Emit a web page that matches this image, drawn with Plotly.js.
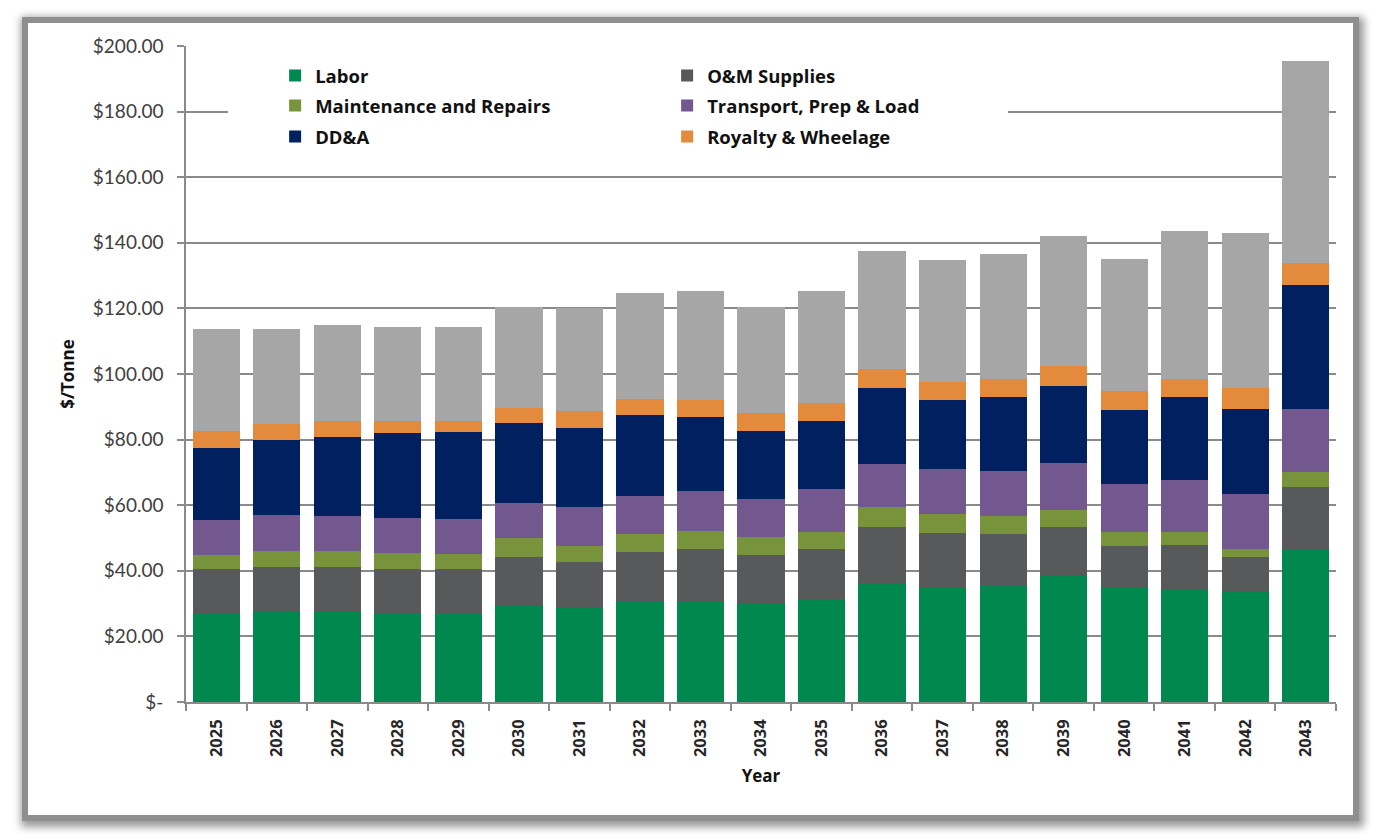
<!DOCTYPE html>
<html>
<head>
<meta charset="utf-8">
<script src="https://cdn.plot.ly/plotly-3.0.1.min.js"></script>
<style>
  html, body { margin: 0; padding: 0; background: #ffffff; width: 1384px; height: 840px; overflow: hidden; }
  #frame {
    position: absolute; left: 22px; top: 17px; width: 1325px; height: 792px;
    border: 6px solid #8f8f8f; background: #ffffff;
    box-shadow: 2px 3px 8px 3px rgba(0,0,0,0.40);
  }
  #chart { position: absolute; left: 0; top: 0; width: 1384px; height: 840px; }
</style>
</head>
<body>
<div id="frame"></div>
<div id="chart"></div>
<script>
const years = ['2025','2026','2027','2028','2029','2030','2031','2032','2033','2034',
               '2035','2036','2037','2038','2039','2040','2041','2042','2043'];

const labor     = [26.7, 27.4, 27.7, 26.9, 26.9, 29.3, 28.6, 30.4, 30.9, 30.1, 31.3, 36.2, 35.2, 35.4, 38.6, 35.2, 34.6, 33.7, 46.3];
const omSupplies= [13.7, 13.8, 13.5, 13.5, 13.5, 14.8, 14.0, 15.3, 15.7, 14.7, 15.3, 17.3, 16.2, 15.8, 14.9, 12.5, 13.4, 10.4, 19.3];
const maintRep  = [ 4.5,  4.9,  4.9,  5.0,  4.7,  5.8,  5.1,  5.4,  5.6,  5.4,  5.3,  5.9,  5.9,  5.6,  5.0,  4.0,  3.9,  2.6,  4.6];
const transport = [10.5, 10.8, 10.5, 10.7, 10.7, 10.7, 11.8, 11.7, 12.2, 11.8, 12.9, 13.1, 13.6, 13.7, 14.3, 14.8, 15.9, 16.7, 19.0];
const dda       = [22.0, 22.9, 24.3, 25.8, 26.4, 24.4, 24.1, 24.6, 22.4, 20.7, 20.8, 23.2, 21.2, 22.4, 23.6, 22.5, 25.2, 25.8, 38.0];
const royalty   = [ 5.3,  4.9,  4.9,  3.9,  3.6,  4.5,  5.1,  4.9,  5.3,  5.5,  5.5,  5.8,  5.6,  5.7,  6.0,  5.7,  5.6,  6.4,  6.5];
const other     = [31.1, 29.1, 29.0, 28.6, 28.4, 31.0, 31.3, 32.3, 33.1, 32.3, 34.1, 36.1, 37.1, 38.0, 39.7, 40.5, 44.9, 47.3, 61.7];

const yTickVals = [0, 20, 40, 60, 80, 100, 120, 140, 160, 180, 200];
const yTickText = ['$-', '$20.00', '$40.00', '$60.00', '$80.00', '$100.00', '$120.00', '$140.00', '$160.00', '$180.00', '$200.00'];

function bar(name, vals, color, legend, show) {
  return {
    type: 'bar', x: years, y: vals, name: name,
    marker: { color: color, line: { width: 0 } },
    legend: legend, showlegend: show,
    hovertemplate: name + ' %{x}: $%{y:.2f}<extra></extra>'
  };
}

const traces = [
  bar('Labor', labor, '#00884f', 'legend', true),
  bar('O&amp;M Supplies', omSupplies, '#58595b', 'legend', true),
  bar('Maintenance and Repairs', maintRep, '#77933c', 'legend2', true),
  bar('Transport, Prep &amp; Load', transport, '#73578f', 'legend2', true),
  bar('DD&amp;A', dda, '#002060', 'legend3', true),
  bar('Royalty &amp; Wheelage', royalty, '#e48a3d', 'legend3', true),
  bar('Other', other, '#a6a6a6', 'legend', false)
];

const legFont = { family: '"Open Sans", Lato, sans-serif', size: 18.5, color: '#111111', weight: 'bold' };
function leg(y) {
  return {
    orientation: 'h', x: 0.0775, xanchor: 'left', y: y, yanchor: 'middle',
    entrywidth: 347, entrywidthmode: 'pixels',
    bgcolor: 'rgba(255,255,255,0)', borderwidth: 0,
    font: legFont, traceorder: 'normal'
  };
}

const layout = {
  width: 1384, height: 840,
  margin: { l: 186, r: 48, t: 46, b: 138, pad: 0 },
  paper_bgcolor: 'rgba(0,0,0,0)', plot_bgcolor: 'rgba(0,0,0,0)',
  barmode: 'stack', bargap: 0.22,
  font: { family: 'Lato, "Open Sans", sans-serif', color: '#404040' },
  xaxis: {
    type: 'category', tickangle: -90,
    tickson: 'boundaries', ticks: 'outside', ticklen: 7, tickcolor: '#8a8a8a', tickwidth: 1.5,
    ticklabelstandoff: 9,
    showline: true, linecolor: '#8a8a8a', linewidth: 1.5,
    showgrid: false,
    tickfont: { family: '"Open Sans", Lato, sans-serif', size: 16.5, color: '#262626', weight: 'bold' },
    title: { text: 'Year', font: { family: '"Open Sans", Lato, sans-serif', size: 17, color: '#111111', weight: 'bold' }, standoff: 14 }
  },
  yaxis: {
    range: [0, 200], tickmode: 'array', tickvals: yTickVals, ticktext: yTickText,
    ticks: 'outside', ticklen: 7, tickcolor: '#8a8a8a', tickwidth: 1.5,
    ticklabelstandoff: 10,
    showline: true, linecolor: '#8a8a8a', linewidth: 1.5,
    showgrid: true, gridcolor: '#8a8a8a', gridwidth: 1.5, zeroline: false,
    tickfont: { family: 'Lato, "Open Sans", sans-serif', size: 19, color: '#404040' },
    title: { text: '$/Tonne', font: { family: '"Open Sans", Lato, sans-serif', size: 17, color: '#111111', weight: 'bold' }, standoff: 14 }
  },
  shapes: [{
    type: 'rect', xref: 'paper', yref: 'paper',
    x0: 0.0365, x1: 0.7148, y0: 0.84, y1: 0.985,
    fillcolor: '#ffffff', line: { width: 0 }, layer: 'above'
  }],
  legend: leg(0.9543),
  legend2: leg(0.9085),
  legend3: leg(0.8613)
};

Plotly.newPlot('chart', traces, layout, { displayModeBar: false });
</script>
</body>
</html>
